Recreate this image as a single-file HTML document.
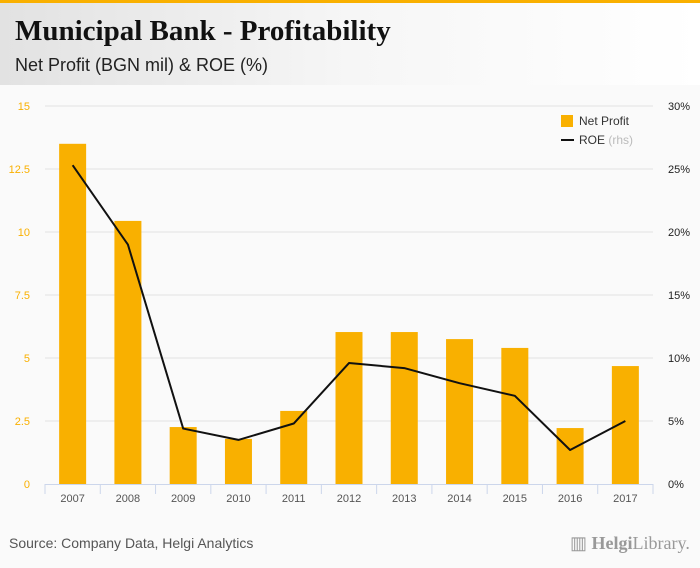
<!DOCTYPE html>
<html><head><meta charset="utf-8"><style>
body{margin:0;width:700px;height:568px;background:#fafafa;font-family:"Liberation Sans",sans-serif;overflow:hidden;position:relative}
#topbar{position:absolute;left:0;top:0;width:700px;height:3px;background:#f9b000}
#header{position:absolute;left:0;top:3px;width:700px;height:82px;background:linear-gradient(90deg,#e2e2e2,#f6f6f6 50%,#ffffff)}
#title{position:absolute;left:15px;top:12px;font-family:"Liberation Serif",serif;font-weight:bold;font-size:29px;color:#111}
#subtitle{position:absolute;left:15px;top:52px;font-size:18px;color:#222}
#source{position:absolute;left:9px;top:535px;font-size:14px;color:#555}
#logo{position:absolute;left:570px;top:533px;font-size:18px;color:#999;font-family:"Liberation Serif",serif}
</style></head><body>
<div id="topbar"></div>
<div id="header">
<div id="title">Municipal Bank - Profitability</div>
<div id="subtitle">Net Profit (BGN mil) &amp; ROE (%)</div>
</div>
<svg id="chart" width="700" height="568" style="position:absolute;left:0;top:0"></svg>
<div id="source">Source: Company Data, Helgi Analytics</div>
<div id="logo">▥ <b>Helgi</b>Library.</div>
<script>
const categories=["2007","2008","2009","2010","2011","2012","2013","2014","2015","2016","2017"];
const netProfit=[13.5,10.44,2.26,1.79,2.9,6.03,6.03,5.75,5.4,2.22,4.68];
const roe=[25.3,19.0,4.4,3.5,4.8,9.6,9.2,8.0,7.0,2.7,5.0];
const leftTicks=[0,2.5,5,7.5,10,12.5,15];
const rightTicks=[0,5,10,15,20,25,30];
const svg=document.getElementById('chart');
const NS='http://www.w3.org/2000/svg';
const x0=45,x1=653,yTop=106,yBot=484;
const band=(x1-x0)/categories.length;
const xC=i=>x0+band*(i+0.5);
const yL=v=>yBot-(v/15)*(yBot-yTop);
const yR=v=>yBot-(v/30)*(yBot-yTop);
function mk(tag,attrs,txt){const e=document.createElementNS(NS,tag);for(const k in attrs)e.setAttribute(k,attrs[k]);if(txt!==undefined)e.textContent=txt;svg.appendChild(e);return e;}
leftTicks.forEach((t,i)=>{
 if(t>0){const g=mk('line',{x1:x0,x2:x1,y1:yL(t),y2:yL(t),stroke:'#e3e3e3','stroke-width':1});
 
 }
 const l=mk('text',{x:30,y:yL(t)+4,'text-anchor':'end','font-size':11,fill:'#f9b000'},String(t));
 
 
});
rightTicks.forEach(t=>{
 const l=mk('text',{x:668,y:yR(t)+4,'font-size':11,fill:'#222'},t+'%');
 
 
});
categories.forEach((c,i)=>{
 const b=mk('rect',{x:xC(i)-13.5,y:yL(netProfit[i]),width:27,height:yBot-yL(netProfit[i]),fill:'#f9b000'});
 
 
 const t=mk('text',{x:xC(i),y:502,'text-anchor':'middle','font-size':11,fill:'#555'},c);
 
 
 const tk=mk('line',{x1:x0+band*i,x2:x0+band*i,y1:yBot,y2:yBot+10,stroke:'#ccd6eb'});
 
 
});
const tkEnd=mk('line',{x1:x1,x2:x1,y1:yBot,y2:yBot+10,stroke:'#ccd6eb'});


const ax=mk('line',{x1:x0,x2:x1,y1:yBot+0.5,y2:yBot+0.5,stroke:'#ccd6eb'});


const ln=mk('polyline',{points:roe.map((v,i)=>xC(i)+','+yR(v)).join(' '),fill:'none',stroke:'#111','stroke-width':2,'stroke-linejoin':'round'});


const lb=mk('rect',{x:561,y:115,width:12,height:12,fill:'#f9b000'});


const lt=mk('text',{x:579,y:125,'font-size':12,fill:'#333'},'Net Profit');


const ll=mk('line',{x1:561,x2:574,y1:140,y2:140,stroke:'#111','stroke-width':2});


const lt2=mk('text',{x:579,y:144,'font-size':12,fill:'#333'},'ROE ');


const ts=document.createElementNS(NS,'tspan');ts.setAttribute('fill','#bbb');ts.textContent='(rhs)';lt2.appendChild(ts);
</script>
</body></html>
